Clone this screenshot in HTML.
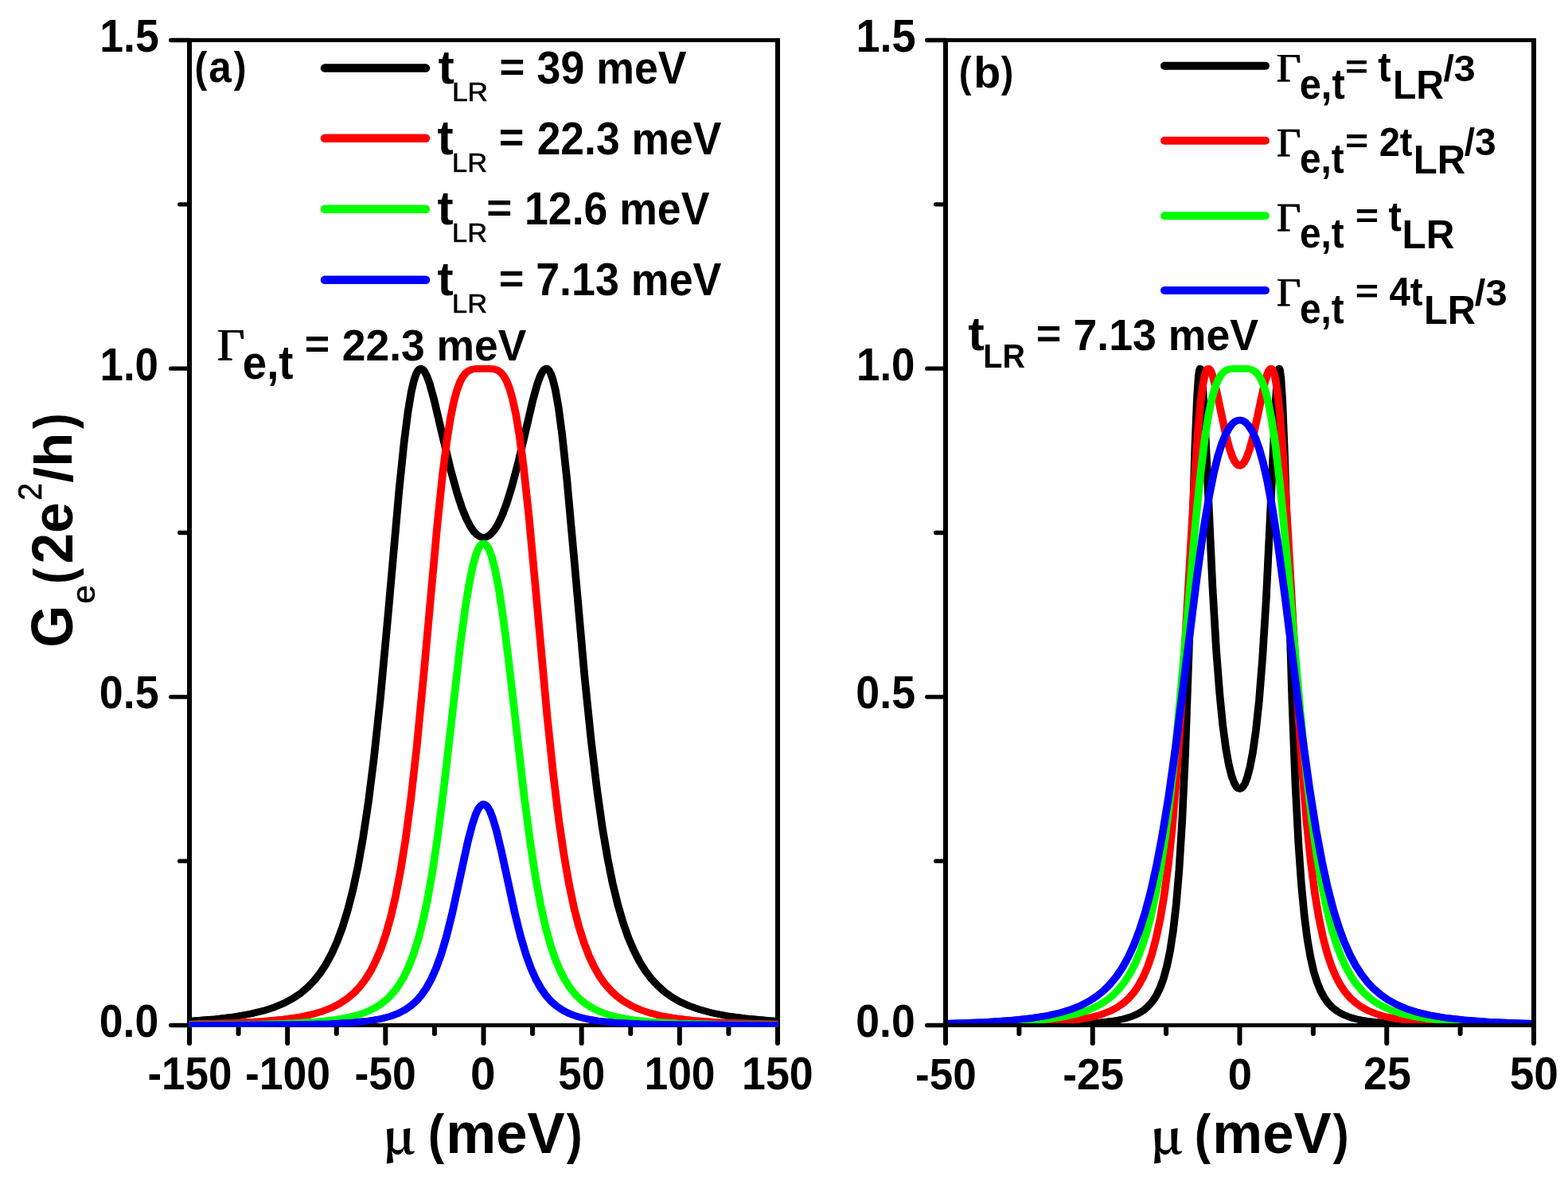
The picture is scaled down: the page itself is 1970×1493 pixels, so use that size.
<!DOCTYPE html><html><head><meta charset="utf-8"><title>Conductance G_e vs chemical potential</title>
<style>html,body{margin:0;padding:0;background:#fff;overflow:hidden;}svg{display:block;}text{fill:#000;}.b{font-family:'Liberation Sans', Arial, sans-serif;font-weight:bold;}.r{font-family:'Liberation Sans', Arial, sans-serif;font-weight:normal;stroke:#000;stroke-width:0.6px;}.s{font-family:'Liberation Serif', 'Times New Roman', serif;font-weight:normal;stroke:#000;stroke-width:0.25px;}.m{font-family:'Noto Serif CJK SC', 'Liberation Serif', serif;font-weight:bold;}</style></head><body>
<svg width="1970" height="1493" viewBox="0 0 1970 1493">
<rect x="0" y="0" width="1970" height="1493" fill="#fff"/>
<defs><clipPath id="ca"><rect x="235" y="48" width="743" height="1242.3"/></clipPath><clipPath id="cb"><rect x="1185" y="48" width="745" height="1243"/></clipPath></defs>
<rect x="235.0" y="48" width="745.0" height="5"/>
<rect x="235.0" y="1286" width="745.0" height="5"/>
<rect x="235.0" y="48" width="6" height="1243"/>
<rect x="974.0" y="48" width="6" height="1243"/>
<g stroke="#000" stroke-linecap="round" fill="none">
<path d="M214.70 1288.50H238.0" stroke-width="5.4"/>
<path d="M214.70 875.83H238.0" stroke-width="5.4"/>
<path d="M214.70 463.17H238.0" stroke-width="5.4"/>
<path d="M214.70 50.50H238.0" stroke-width="5.4"/>
<path d="M225.70 1082.17H238.0" stroke-width="5.4"/>
<path d="M225.70 669.50H238.0" stroke-width="5.4"/>
<path d="M225.70 256.83H238.0" stroke-width="5.4"/>
<path d="M238.00 1291V1311.0" stroke-width="6"/>
<path d="M361.17 1291V1311.0" stroke-width="6"/>
<path d="M484.33 1291V1311.0" stroke-width="6"/>
<path d="M607.50 1291V1311.0" stroke-width="6"/>
<path d="M730.67 1291V1311.0" stroke-width="6"/>
<path d="M853.83 1291V1311.0" stroke-width="6"/>
<path d="M977.00 1291V1311.0" stroke-width="6"/>
<path d="M299.58 1291V1299.0" stroke-width="6"/>
<path d="M422.75 1291V1299.0" stroke-width="6"/>
<path d="M545.92 1291V1299.0" stroke-width="6"/>
<path d="M669.08 1291V1299.0" stroke-width="6"/>
<path d="M792.25 1291V1299.0" stroke-width="6"/>
<path d="M915.42 1291V1299.0" stroke-width="6"/>
</g>
<g clip-path="url(#ca)" fill="none" stroke-width="8.40" stroke-linejoin="round">
<path id="ca0" transform="translate(-0.65 0)" d="M238.0 1283.1L270.3 1280.6L295.1 1277.6L314.9 1274.2L331.3 1270.2L345.2 1265.7L357.2 1260.6L367.9 1254.8L377.5 1248.4L386.4 1240.9L394.5 1232.6L402.3 1222.8L409.7 1211.6L416.7 1198.6L423.5 1183.4L430.2 1165.6L436.8 1144.0L443.3 1118.8L449.8 1088.5L456.2 1052.2L462.9 1007.7L469.9 951.9L477.7 879.2L487.5 773.5L501.5 615.4L507.8 554.7L512.6 517.2L516.7 492.8L520.0 478.3L522.8 470.0L525.2 465.5L527.2 463.6L528.9 463.2L530.7 463.9L532.9 466.3L535.9 471.8L539.8 482.3L545.1 501.3L555.8 546.8L566.6 591.9L574.0 618.7L580.2 637.9L585.8 651.6L590.8 661.3L595.2 667.8L599.3 672.1L603.0 674.5L606.3 675.4L609.6 675.3L613.1 673.9L616.8 671.1L621.1 666.1L625.7 658.7L630.9 647.8L636.8 632.1L643.4 610.5L651.6 579.2L669.5 502.7L675.0 482.9L678.9 472.2L681.9 466.6L684.1 464.0L685.9 463.2L687.6 463.5L689.5 465.1L691.7 468.8L694.4 476.4L697.8 490.1L701.7 512.2L706.3 546.8L712.2 602.0L722.2 712.1L734.5 850.7L742.7 930.6L749.9 991.1L756.7 1039.5L763.4 1078.8L769.8 1110.7L776.3 1137.3L782.8 1159.4L789.4 1178.3L796.3 1194.4L803.3 1208.1L810.5 1219.7L818.1 1229.8L826.0 1238.4L834.5 1246.1L843.8 1252.8L854.1 1258.8L865.8 1264.1L879.1 1268.8L894.6 1273.0L913.2 1276.6L936.3 1279.7L965.9 1282.4L977.0 1283.1" stroke="#000000"/>
<use href="#ca0" x="1.30"/>
<path id="ca1" transform="translate(-0.65 0)" d="M238.0 1286.9L293.6 1285.4L330.0 1283.5L356.3 1281.0L376.4 1278.1L392.5 1274.7L405.8 1270.7L417.3 1266.2L427.2 1261.0L436.1 1255.1L444.2 1248.3L451.8 1240.3L458.8 1231.2L465.7 1220.3L472.1 1207.7L478.4 1192.8L484.7 1174.5L490.8 1153.0L496.9 1126.9L503.2 1094.4L509.7 1053.8L516.3 1003.8L523.7 937.9L532.7 844.1L549.2 661.9L556.0 596.5L561.4 554.3L566.2 524.2L570.4 503.8L574.3 489.7L578.0 479.9L581.5 473.3L585.0 468.9L588.6 466.1L592.6 464.3L598.0 463.4L615.4 463.3L621.3 464.0L625.5 465.5L629.2 468.2L632.7 472.2L636.2 478.3L639.9 487.5L643.8 500.8L648.1 520.3L652.7 547.9L658.0 588.6L664.5 648.7L674.9 761.2L687.2 897.3L695.2 973.9L702.2 1031.3L708.7 1075.6L715.0 1111.4L721.2 1141.0L727.3 1164.6L733.6 1184.6L739.9 1201.1L746.4 1214.9L753.0 1226.5L759.9 1236.3L767.1 1244.6L774.8 1251.9L783.3 1258.2L792.8 1263.7L803.5 1268.6L815.9 1272.9L830.6 1276.6L848.8 1279.7L871.9 1282.4L902.9 1284.6L948.0 1286.3L977.0 1286.9" stroke="#ff0000"/>
<use href="#ca1" x="1.30"/>
<path id="ca2" transform="translate(-0.65 0)" d="M238.0 1288.0L324.9 1287.1L370.9 1285.7L400.4 1283.8L421.7 1281.4L437.9 1278.5L451.1 1275.1L462.0 1271.1L471.4 1266.4L479.7 1261.0L487.3 1254.7L494.3 1247.2L500.8 1238.6L507.1 1228.2L513.2 1215.6L519.1 1200.5L525.0 1182.1L530.9 1159.5L537.0 1131.1L543.5 1094.6L550.3 1048.5L558.4 984.1L577.8 814.2L584.5 764.2L589.7 732.3L594.1 711.0L597.8 697.7L600.9 689.7L603.5 685.4L605.7 683.4L607.6 682.9L609.4 683.5L611.7 685.6L614.4 690.5L617.8 699.4L621.6 714.1L626.3 737.5L631.8 773.2L638.8 828.0L658.6 1001.1L666.4 1060.4L673.0 1103.6L679.3 1137.6L685.4 1164.8L691.3 1186.4L697.2 1204.1L703.1 1218.5L709.2 1230.5L715.5 1240.5L722.2 1249.0L729.2 1256.1L736.8 1262.1L745.3 1267.4L754.9 1271.9L766.1 1275.8L779.8 1279.1L796.8 1281.9L819.4 1284.2L851.3 1286.0L902.3 1287.3L977.0 1288.0" stroke="#00ff00"/>
<use href="#ca2" x="1.30"/>
<path id="ca3" transform="translate(-0.65 0)" d="M238.0 1288.3L362.6 1287.7L413.6 1286.6L443.3 1285.0L463.6 1282.9L478.8 1280.3L490.6 1277.2L500.4 1273.5L508.9 1269.1L516.5 1263.8L523.3 1257.7L529.8 1250.2L535.9 1241.3L542.0 1230.2L548.1 1216.4L554.4 1199.0L561.0 1176.5L568.6 1145.9L587.8 1057.6L593.4 1036.3L597.6 1023.6L600.9 1016.5L603.7 1012.7L605.9 1011.0L608.0 1010.7L610.0 1011.6L612.4 1013.9L615.4 1018.9L619.0 1028.1L623.7 1043.6L630.3 1071.4L646.8 1147.5L654.2 1177.2L660.8 1199.5L667.1 1216.9L673.2 1230.6L679.3 1241.6L685.6 1250.7L692.0 1258.0L698.9 1264.1L706.5 1269.3L715.0 1273.7L724.9 1277.4L736.9 1280.5L752.3 1283.1L773.0 1285.1L803.7 1286.7L856.9 1287.8L977.0 1288.3" stroke="#0000ff"/>
<use href="#ca3" x="1.30"/>
</g>
<g clip-path="url(#cb)" fill="none" stroke-width="8.40" stroke-linejoin="round">
<path id="cb0" transform="translate(-0.65 0)" d="M1188.0 1288.3L1306.8 1287.7L1354.1 1286.6L1380.9 1285.1L1398.9 1283.0L1411.8 1280.5L1421.8 1277.5L1429.9 1273.9L1436.7 1269.7L1442.6 1264.6L1448.0 1258.4L1452.8 1251.1L1457.4 1241.7L1461.7 1230.2L1465.9 1214.9L1470.0 1195.3L1473.9 1170.2L1477.8 1136.2L1481.5 1092.3L1485.3 1029.9L1489.2 945.5L1493.7 818.3L1501.4 560.8L1504.0 499.0L1505.8 472.7L1507.0 465.0L1507.7 463.2L1508.3 463.6L1509.4 468.6L1511.2 487.8L1514.2 539.3L1523.4 737.3L1528.0 815.9L1532.3 871.5L1536.3 911.8L1540.2 940.8L1543.9 961.2L1547.4 975.2L1550.6 983.9L1553.2 988.5L1555.4 990.7L1557.4 991.4L1559.3 990.9L1561.5 988.9L1564.1 984.7L1567.0 977.0L1570.3 964.6L1574.0 945.4L1577.9 918.0L1582.0 879.7L1586.2 826.7L1590.9 751.2L1596.8 628.3L1602.1 514.4L1604.5 478.7L1606.0 466.3L1606.9 463.3L1607.3 463.2L1608.0 465.0L1609.3 474.6L1611.2 502.5L1614.0 571.5L1623.4 880.6L1627.4 984.6L1631.3 1059.0L1635.0 1111.5L1638.7 1150.4L1642.6 1180.7L1646.5 1203.1L1650.5 1220.8L1654.8 1234.5L1659.2 1245.4L1663.9 1253.9L1668.8 1260.8L1674.4 1266.5L1680.5 1271.2L1687.7 1275.2L1696.4 1278.6L1707.3 1281.5L1721.7 1283.8L1742.0 1285.7L1774.2 1287.1L1835.9 1288.0L1927.0 1288.3" stroke="#000000"/>
<use href="#cb0" x="1.30"/>
<path id="cb1" transform="translate(-0.65 0)" d="M1188.0 1287.9L1266.2 1286.9L1308.9 1285.4L1336.8 1283.5L1356.9 1281.0L1372.2 1278.1L1384.6 1274.7L1394.8 1270.7L1403.5 1266.1L1411.2 1260.8L1418.3 1254.5L1424.7 1247.0L1430.6 1238.3L1436.4 1227.7L1441.9 1214.8L1447.3 1198.9L1452.4 1179.6L1457.6 1155.2L1462.6 1125.5L1467.8 1086.7L1473.0 1037.9L1478.3 974.8L1484.2 889.5L1492.7 743.2L1500.9 602.1L1505.3 539.6L1508.8 502.6L1511.6 482.0L1514.0 470.5L1515.8 465.4L1517.3 463.5L1518.4 463.2L1519.7 464.0L1521.6 466.9L1524.3 474.8L1528.6 492.1L1539.7 544.6L1544.5 562.9L1548.4 574.1L1551.5 580.4L1554.1 583.7L1556.3 585.1L1558.3 585.2L1560.5 584.0L1563.1 581.0L1566.3 575.0L1570.0 564.7L1574.6 547.7L1581.8 514.4L1588.6 482.5L1592.0 470.7L1594.2 465.5L1595.8 463.5L1597.1 463.2L1598.4 464.2L1600.1 467.6L1602.3 476.0L1604.9 492.0L1608.0 520.6L1612.1 571.6L1618.0 667.1L1629.8 874.7L1635.9 965.1L1641.5 1032.0L1646.7 1082.0L1651.8 1121.8L1656.8 1152.2L1662.0 1177.2L1667.2 1197.1L1672.5 1213.3L1677.9 1226.2L1683.6 1237.1L1689.5 1246.0L1695.8 1253.5L1702.7 1259.9L1710.2 1265.3L1718.9 1270.1L1728.9 1274.2L1740.9 1277.7L1755.9 1280.7L1775.3 1283.2L1802.1 1285.2L1842.5 1286.7L1914.2 1287.8L1927.0 1287.9" stroke="#ff0000"/>
<use href="#cb1" x="1.30"/>
<path id="cb2" transform="translate(-0.65 0)" d="M1188.0 1287.1L1247.3 1285.8L1285.2 1283.9L1312.0 1281.6L1332.3 1278.7L1348.4 1275.4L1361.7 1271.5L1373.0 1267.1L1382.8 1262.1L1391.5 1256.3L1399.4 1249.7L1406.8 1241.9L1413.8 1232.8L1420.5 1222.1L1426.9 1209.3L1433.2 1194.0L1439.3 1175.8L1445.4 1153.6L1451.5 1126.4L1457.6 1093.3L1463.9 1052.0L1470.6 999.3L1477.8 931.4L1487.0 830.3L1501.8 659.7L1508.3 595.4L1513.6 551.8L1518.2 522.3L1522.3 502.3L1526.2 488.2L1529.7 478.9L1533.2 472.4L1536.5 468.3L1540.0 465.6L1544.1 464.0L1549.8 463.3L1566.5 463.3L1571.6 464.2L1575.5 466.0L1579.0 468.9L1582.4 473.3L1585.9 480.1L1589.6 490.5L1593.4 505.5L1597.7 527.6L1602.5 560.0L1608.0 607.3L1615.2 682.0L1633.7 894.6L1641.5 972.8L1648.3 1031.2L1654.6 1076.0L1660.7 1112.2L1666.8 1141.9L1672.9 1166.3L1679.0 1186.2L1685.1 1202.5L1691.4 1216.2L1697.9 1227.8L1704.7 1237.6L1711.9 1246.0L1719.5 1253.1L1727.8 1259.3L1737.0 1264.7L1747.6 1269.5L1759.8 1273.6L1774.4 1277.2L1792.5 1280.2L1815.8 1282.8L1847.4 1284.9L1894.1 1286.5L1927.0 1287.1" stroke="#00ff00"/>
<use href="#cb2" x="1.30"/>
<path id="cb3" transform="translate(-0.65 0)" d="M1188.0 1286.2L1236.8 1284.4L1270.8 1282.2L1296.3 1279.5L1316.2 1276.3L1332.7 1272.5L1346.6 1268.2L1358.6 1263.3L1369.1 1257.8L1378.5 1251.5L1387.2 1244.4L1395.3 1236.2L1403.1 1226.6L1410.5 1215.5L1417.7 1202.5L1424.7 1187.2L1431.7 1168.8L1438.6 1147.4L1445.6 1121.1L1452.6 1090.0L1460.0 1051.4L1468.0 1002.8L1477.0 938.9L1490.1 834.6L1504.2 721.8L1512.3 664.2L1519.0 624.1L1524.9 594.7L1530.2 573.1L1535.2 557.2L1539.9 545.9L1544.1 538.1L1548.0 532.9L1551.5 529.9L1554.8 528.3L1558.0 527.9L1561.3 528.7L1564.8 530.8L1568.5 534.7L1572.6 540.8L1577.0 550.0L1581.8 563.2L1587.0 581.5L1592.5 605.9L1598.6 638.8L1605.8 685.4L1615.1 754.8L1636.3 926.3L1645.6 993.0L1653.5 1042.9L1660.9 1082.8L1668.1 1115.8L1675.1 1142.9L1682.0 1165.0L1688.8 1183.6L1695.8 1199.5L1703.0 1213.0L1710.4 1224.5L1718.0 1234.3L1726.1 1242.8L1734.8 1250.3L1744.2 1256.8L1754.6 1262.4L1766.2 1267.4L1779.7 1271.8L1795.6 1275.6L1814.8 1278.9L1839.0 1281.7L1871.2 1284.1L1916.7 1285.9L1927.0 1286.2" stroke="#0000ff"/>
<use href="#cb3" x="1.30"/>
</g>
<rect x="1185.0" y="48" width="745.0" height="5"/>
<rect x="1185.0" y="1286" width="745.0" height="5"/>
<rect x="1185.0" y="48" width="6" height="1243"/>
<rect x="1924.0" y="48" width="6" height="1243"/>
<g stroke="#000" stroke-linecap="round" fill="none">
<path d="M1164.70 1288.50H1188.0" stroke-width="5.4"/>
<path d="M1164.70 875.83H1188.0" stroke-width="5.4"/>
<path d="M1164.70 463.17H1188.0" stroke-width="5.4"/>
<path d="M1164.70 50.50H1188.0" stroke-width="5.4"/>
<path d="M1175.70 1082.17H1188.0" stroke-width="5.4"/>
<path d="M1175.70 669.50H1188.0" stroke-width="5.4"/>
<path d="M1175.70 256.83H1188.0" stroke-width="5.4"/>
<path d="M1188.00 1291V1311.0" stroke-width="6"/>
<path d="M1372.75 1291V1311.0" stroke-width="6"/>
<path d="M1557.50 1291V1311.0" stroke-width="6"/>
<path d="M1742.25 1291V1311.0" stroke-width="6"/>
<path d="M1927.00 1291V1311.0" stroke-width="6"/>
<path d="M1280.38 1291V1299.0" stroke-width="6"/>
<path d="M1465.12 1291V1299.0" stroke-width="6"/>
<path d="M1649.88 1291V1299.0" stroke-width="6"/>
<path d="M1834.62 1291V1299.0" stroke-width="6"/>
</g>
<path d="M408 85.6H535" stroke="#000000" stroke-width="10.5" stroke-linecap="round"/>
<path d="M408 173.8H535" stroke="#ff0000" stroke-width="10.5" stroke-linecap="round"/>
<path d="M408 262.8H535" stroke="#00ff00" stroke-width="10.5" stroke-linecap="round"/>
<path d="M408 351.8H535" stroke="#0000ff" stroke-width="10.5" stroke-linecap="round"/>
<path d="M1463 82.7H1590" stroke="#000000" stroke-width="10" stroke-linecap="round"/>
<path d="M1463 176.8H1590" stroke="#ff0000" stroke-width="10" stroke-linecap="round"/>
<path d="M1463 271.2H1590" stroke="#00ff00" stroke-width="10" stroke-linecap="round"/>
<path d="M1463 365.0H1590" stroke="#0000ff" stroke-width="10" stroke-linecap="round"/>
<text class="b" transform="translate(125.21 65.03) scale(0.9361 1)" font-size="57.29">1.5</text>
<text class="b" transform="translate(125.46 478.45) scale(0.9114 1)" font-size="58.07">1.0</text>
<text class="b" transform="translate(1075.38 64.62) scale(0.9422 1)" font-size="57.57">1.5</text>
<text class="b" transform="translate(185.43 1369.32) scale(0.9146 1)" font-size="57.89">-150</text>
<text class="b" transform="translate(307.91 1369.32) scale(0.9245 1)" font-size="57.89">-100</text>
<text class="b" transform="translate(445.51 1369.32) scale(0.9246 1)" font-size="57.89">-50</text>
<text class="b" transform="translate(1150.03 1368.84) scale(0.9481 1)" font-size="55.92">-50</text>
<text class="b" transform="translate(1335.22 1368.84) scale(0.9535 1)" font-size="55.92">-25</text>
<text class="b" transform="translate(1542.83 1368.84) scale(0.9718 1)" font-size="55.92">0</text>
<text class="b" transform="translate(244.53 102.53) scale(0.8754 1)" font-size="54.15">(</text>
<text class="b" transform="translate(262.26 103.46) scale(0.9087 1)" font-size="56.42">a</text>
<text class="b" transform="translate(293.70 102.53) scale(0.8740 1)" font-size="54.15">)</text>
<text class="b" transform="translate(1204.65 108.61) scale(0.8671 1)" font-size="54.26">(</text>
<text class="b" transform="translate(1223.30 109.55) scale(1.0024 1)" font-size="55.54">b</text>
<text class="b" transform="translate(1257.81 108.61) scale(0.8591 1)" font-size="54.26">)</text>
<text class="b" transform="translate(550.44 105.11) scale(1.0288 1)" font-size="59.26">t</text>
<text class="r" transform="translate(568.01 126.80) scale(1.0821 1)" font-size="32.52">LR</text>
<text class="b" transform="translate(627.62 101.73) scale(1.1051 1)" font-size="49.47">=</text>
<text class="b" transform="translate(674.61 105.13) scale(0.9436 1)" font-size="56.90">39 meV</text>
<text class="b" transform="translate(549.55 193.60) scale(1.0029 1)" font-size="60.46">t</text>
<text class="r" transform="translate(568.07 216.00) scale(1.0350 1)" font-size="33.24">LR</text>
<text class="b" transform="translate(626.73 190.76) scale(1.0469 1)" font-size="51.84">=</text>
<text class="b" transform="translate(674.64 193.62) scale(0.9190 1)" font-size="58.17">22.3 meV</text>
<text class="b" transform="translate(549.55 282.30) scale(1.0079 1)" font-size="60.16">t</text>
<text class="r" transform="translate(568.07 304.10) scale(1.0350 1)" font-size="33.24">LR</text>
<text class="b" transform="translate(611.30 278.53) scale(1.1131 1)" font-size="49.47">=</text>
<text class="b" transform="translate(659.02 282.32) scale(0.9214 1)" font-size="58.17">12.6 meV</text>
<text class="b" transform="translate(549.55 371.11) scale(1.0207 1)" font-size="59.41">t</text>
<text class="r" transform="translate(568.07 392.90) scale(1.0350 1)" font-size="33.24">LR</text>
<text class="b" transform="translate(626.73 367.79) scale(1.1029 1)" font-size="49.21">=</text>
<text class="b" transform="translate(673.18 371.13) scale(0.9454 1)" font-size="56.90">7.13 meV</text>
<text id="ga_G" class="s" transform="translate(272.17 452.96) scale(1.0533 1)" font-size="57.16">&#915;</text><use href="#ga_G" x="1.10"/>
<text class="b" transform="translate(304.82 475.51) scale(0.9291 1)" font-size="58.66">e,t</text>
<text class="b" transform="translate(382.75 449.86) scale(1.0832 1)" font-size="49.74">=</text>
<text class="b" transform="translate(429.74 452.74) scale(0.9528 1)" font-size="56.06">22.3 meV</text>
<text id="lb0_G" class="s" transform="translate(1603.29 101.77) scale(1.0413 1)" font-size="50.57">&#915;</text><use href="#lb0_G" x="1.10"/>
<text class="b" transform="translate(1632.64 123.51) scale(0.9260 1)" font-size="52.85">e,t</text>
<text class="b" transform="translate(1690.03 97.55) scale(1.2054 1)" font-size="41.05">=</text>
<text class="b" transform="translate(1731.29 101.68) scale(0.9328 1)" font-size="52.49">t</text>
<text class="b" transform="translate(1749.88 123.90) scale(0.9608 1)" font-size="50.14">LR</text>
<text class="b" transform="translate(1813.43 101.50) scale(1.0328 1)" font-size="46.85">/3</text>
<text id="lb1_G" class="s" transform="translate(1603.39 195.57) scale(1.0438 1)" font-size="50.27">&#915;</text><use href="#lb1_G" x="1.10"/>
<text class="b" transform="translate(1632.99 217.33) scale(0.9168 1)" font-size="52.11">e,t</text>
<text class="b" transform="translate(1689.91 192.11) scale(1.1676 1)" font-size="42.89">=</text>
<text class="b" transform="translate(1732.66 195.53) scale(0.9465 1)" font-size="49.75">2t</text>
<text class="b" transform="translate(1775.72 217.80) scale(0.9785 1)" font-size="50.14">LR</text>
<text class="b" transform="translate(1839.64 195.29) scale(1.0131 1)" font-size="47.39">/3</text>
<text id="lb2_G" class="s" transform="translate(1603.39 290.07) scale(1.0281 1)" font-size="51.03">&#915;</text><use href="#lb2_G" x="1.10"/>
<text class="b" transform="translate(1632.99 311.45) scale(0.9082 1)" font-size="52.61">e,t</text>
<text class="b" transform="translate(1702.80 285.89) scale(1.1942 1)" font-size="42.11">=</text>
<text class="b" transform="translate(1744.39 289.67) scale(0.9363 1)" font-size="52.64">t</text>
<text class="b" transform="translate(1761.49 312.00) scale(0.9752 1)" font-size="50.72">LR</text>
<text id="lb3_G" class="s" transform="translate(1603.39 384.07) scale(1.0312 1)" font-size="50.88">&#915;</text><use href="#lb3_G" x="1.10"/>
<text class="b" transform="translate(1632.99 406.45) scale(0.9082 1)" font-size="52.61">e,t</text>
<text class="b" transform="translate(1702.80 379.51) scale(1.2327 1)" font-size="40.79">=</text>
<text class="b" transform="translate(1745.38 383.72) scale(0.9450 1)" font-size="50.18">4t</text>
<text class="b" transform="translate(1788.94 407.00) scale(0.9610 1)" font-size="50.72">LR</text>
<text class="b" transform="translate(1852.82 383.50) scale(1.0404 1)" font-size="47.12">/3</text>
<text class="b" transform="translate(1216.24 440.20) scale(1.0293 1)" font-size="59.86">t</text>
<text class="b" transform="translate(1235.36 461.90) scale(0.9458 1)" font-size="41.74">LR</text>
<text class="b" transform="translate(1301.74 436.69) scale(1.0988 1)" font-size="49.21">=</text>
<text class="b" transform="translate(1348.38 439.84) scale(0.9551 1)" font-size="56.20">7.13 meV</text>
<text class="m" transform="translate(480.47 1450.16) scale(1.0934 1)" font-size="57.68">&#956;</text>
<text class="b" transform="translate(537.85 1448.72) scale(0.8980 1)" font-size="67.98">(</text>
<text class="b" transform="translate(560.31 1449.17) scale(0.9750 1)" font-size="72.57">meV</text>
<text class="b" transform="translate(711.85 1448.72) scale(0.8808 1)" font-size="67.98">)</text>
<text class="m" transform="translate(1444.67 1450.16) scale(1.0934 1)" font-size="57.68">&#956;</text>
<text class="b" transform="translate(1500.85 1448.72) scale(0.8980 1)" font-size="67.98">(</text>
<text class="b" transform="translate(1523.31 1449.17) scale(0.9750 1)" font-size="72.57">meV</text>
<text class="b" transform="translate(1674.85 1448.72) scale(0.8808 1)" font-size="67.98">)</text>
<text class="b" transform="translate(91.27 813.74) rotate(-90) scale(0.9300 1)" font-size="73.38">G</text>
<text class="r" transform="translate(118.70 758.73) rotate(-90) scale(1.0594 1)" font-size="40.22">e</text>
<text class="b" transform="translate(90.68 733.92) rotate(-90) scale(0.8847 1)" font-size="68.19">(</text>
<text class="b" transform="translate(91.38 708.62) rotate(-90) scale(0.9657 1)" font-size="71.97">2e</text>
<text class="r" transform="translate(51.90 629.00) rotate(-90) scale(0.9305 1)" font-size="42.71">2</text>
<text class="b" transform="translate(90.00 606.74) rotate(-90) scale(1.0590 1)" font-size="67.12">/h</text>
<text class="b" transform="translate(90.70 539.04) rotate(-90) scale(0.8637 1)" font-size="68.09">)</text>
<text class="b" transform="translate(124.75 890.42) scale(0.9321 1)" font-size="57.75">0.5</text>
<text class="b" transform="translate(124.76 1303.42) scale(0.9280 1)" font-size="57.75">0.0</text>
<text class="b" transform="translate(1075.96 478.45) scale(0.9114 1)" font-size="58.07">1.0</text>
<text class="b" transform="translate(1075.25 890.42) scale(0.9321 1)" font-size="57.75">0.5</text>
<text class="b" transform="translate(1075.26 1303.42) scale(0.9280 1)" font-size="57.75">0.0</text>
<text class="b" transform="translate(591.03 1368.93) scale(0.9956 1)" font-size="56.90">0</text>
<text class="b" transform="translate(701.36 1368.93) scale(0.9302 1)" font-size="56.90">50</text>
<text class="b" transform="translate(809.43 1368.93) scale(0.9393 1)" font-size="56.90">100</text>
<text class="b" transform="translate(932.01 1368.93) scale(0.9449 1)" font-size="56.90">150</text>
<text class="b" transform="translate(1713.03 1369.32) scale(0.9325 1)" font-size="57.61">25</text>
<text class="b" transform="translate(1896.70 1369.32) scale(0.9540 1)" font-size="57.61">50</text>
</svg></body></html>
